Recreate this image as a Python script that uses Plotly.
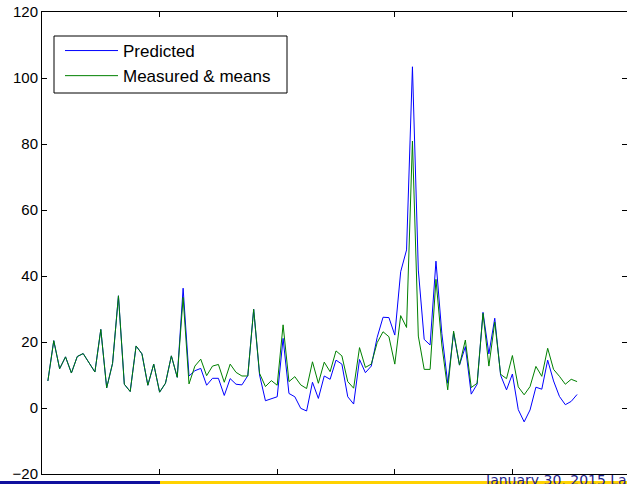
import plotly.graph_objects as go

# ---- data ----
sample_index = list(range(1, 92))

predicted = [
    8.2, 20.4, 11.9, 15.5, 10.6, 15.6, 16.5, 13.7, 10.9, 23.8,
    6.1, 13.5, 34.0, 7.2, 5.0, 18.8, 16.4, 6.9, 13.3, 4.8,
    7.5, 15.8, 9.3, 36.3, 9.7, 11.3, 12.0, 6.9, 9.0, 9.0,
    3.8, 8.9, 7.2, 7.0, 9.8, 29.9, 10.0, 2.2, 2.8, 3.4,
    21.1, 4.4, 3.4, -0.1, -0.9, 7.8, 2.9, 9.7, 8.7, 14.5,
    13.3, 3.4, 1.2, 14.7, 10.7, 12.7, 21.4, 27.5, 27.4, 22.1,
    41.3, 47.9, 103.4, 41.8, 20.8, 19.1, 44.5, 22.6, 7.5, 22.8,
    13.0, 18.6, 4.2, 7.2, 29.0, 16.4, 27.2, 9.9, 5.5, 10.3,
    -0.5, -4.2, -0.6, 6.3, 5.7, 14.5, 8.2, 3.5, 1.0, 2.0,
    4.1,
]

measured = [
    8.2, 20.4, 11.9, 15.5, 10.6, 15.6, 16.5, 13.7, 10.9, 23.8,
    6.1, 13.5, 34.0, 7.2, 5.0, 18.8, 16.4, 6.9, 13.3, 4.8,
    7.5, 15.8, 9.3, 33.5, 7.3, 12.7, 14.8, 9.8, 12.7, 13.2,
    7.8, 13.3, 10.8, 9.7, 9.7, 29.9, 10.5, 6.5, 8.3, 6.9,
    25.2, 8.0, 9.5, 7.0, 5.9, 14.0, 7.5, 13.9, 11.0, 17.3,
    15.8, 8.0, 6.0, 18.3, 12.3, 13.3, 19.8, 23.1, 21.6, 13.3,
    28.0, 24.4, 80.9, 21.8, 11.7, 11.7, 39.0, 19.1, 5.5, 23.3,
    13.0, 20.6, 6.2, 7.5, 28.7, 12.7, 26.0, 10.2, 8.9, 15.9,
    6.4, 4.0, 6.5, 12.6, 9.6, 18.1, 11.7, 9.6, 7.2, 8.7,
    8.0,
]

y_ticks = [-20, 0, 20, 40, 60, 80, 100, 120]
x_ticks = [0, 20, 40, 60, 80, 100]
footer_text = "January 30, 2015 La"

# ---- layout geometry ----
W, H = 627, 484
L, T, B, R = 42, 12, 10, 0
PW, PH = W - L - R, H - T - B


def px(p):
    return (p - L) / PW


def py(p):
    return (H - B - p) / PH


font = "Liberation Sans, Arial, Helvetica, sans-serif"

fig = go.Figure()
fig.add_trace(go.Scatter(x=sample_index, y=predicted, mode="lines", name="Predicted",
                         line=dict(color="#0000FF", width=1)))
fig.add_trace(go.Scatter(x=sample_index, y=measured, mode="lines", name="Measured & means",
                         line=dict(color="#008000", width=1)))
# invisible trace for the right-hand mirrored y ticks
fig.add_trace(go.Scatter(x=[None], y=[None], yaxis="y2", showlegend=False, hoverinfo="skip"))

fig.update_layout(
    width=W, height=H,
    margin=dict(l=L, r=R, t=T, b=B, pad=0),
    paper_bgcolor="white", plot_bgcolor="white",
    font=dict(family=font, size=16, color="black"),
    showlegend=True,
    legend=dict(x=px(60), y=py(33), xanchor="left", yanchor="top",
                borderwidth=0, bgcolor="rgba(0,0,0,0)",
                font=dict(family=font, size=17, color="black"),
                itemwidth=53, tracegroupgap=0),
    xaxis=dict(range=[0, 100 * PW / (PW + 3)], tickvals=x_ticks,
               showticklabels=False, ticks="inside", ticklen=5, tickcolor="black",
               showline=True, linecolor="black", linewidth=1, mirror="ticks",
               showgrid=False, zeroline=False),
    yaxis=dict(range=[-20, 120], tickvals=y_ticks, ticks="inside", ticklen=5,
               tickcolor="black", showline=True, linecolor="black", linewidth=1,
               showgrid=False, zeroline=False, ticklabelstandoff=0,
               tickfont=dict(family=font, size=15, color="black")),
    yaxis2=dict(range=[-20, 120], tickvals=y_ticks, ticks="inside", ticklen=5,
                tickcolor="black", overlaying="y", side="right", showline=False,
                showticklabels=False, showgrid=False, zeroline=False),
    shapes=[
        # legend frame
        dict(type="rect", xref="paper", yref="paper", x0=px(54), x1=px(287),
             y0=py(93), y1=py(36), fillcolor="white", layer="above",
             line=dict(color="black", width=1)),
        # footer bars
        dict(type="rect", xref="paper", yref="paper", x0=px(0), x1=px(160),
             y0=py(484), y1=py(481), fillcolor="#10109E", line=dict(width=0)),
        dict(type="rect", xref="paper", yref="paper", x0=px(160), x1=px(627),
             y0=py(484), y1=py(481), fillcolor="#FFD200", line=dict(width=0)),
    ],
    annotations=[
        dict(text=footer_text, xref="paper", yref="paper", x=px(483), y=py(470),
             xanchor="left", yanchor="top", showarrow=False,
             font=dict(family="DejaVu Sans", size=14, color="#24248C")),
    ],
)

fig.write_html("out.html", config={"displayModeBar": False},
               post_script="document.body.style.margin='0px';")
